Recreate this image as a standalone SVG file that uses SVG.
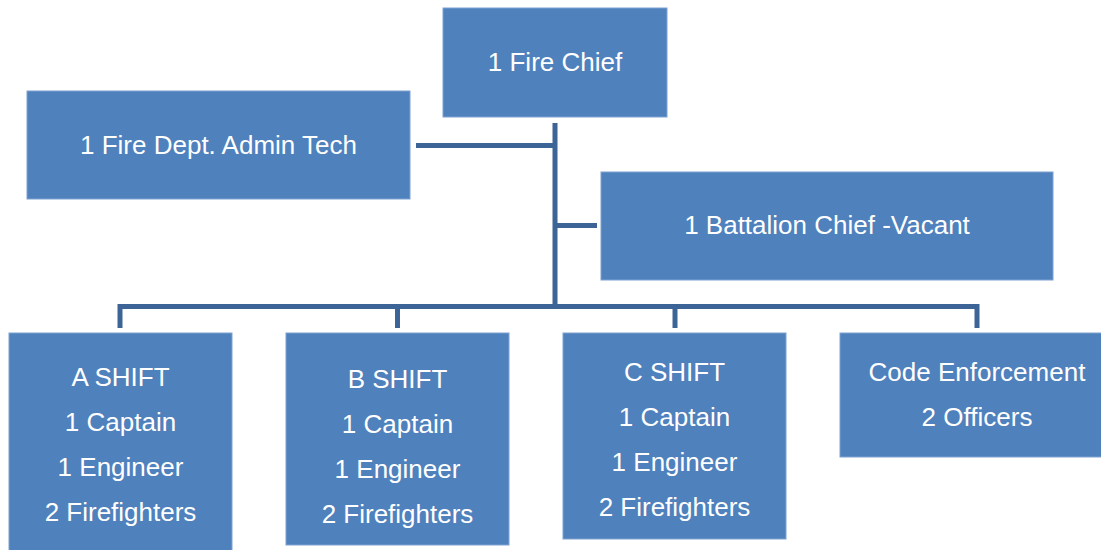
<svg xmlns="http://www.w3.org/2000/svg" width="1101" height="550" viewBox="0 0 1101 550">
<style>
.box{fill:#4F81BD;stroke:#7EA2D2;stroke-width:1}
.t{font-family:"Liberation Sans",Arial,sans-serif;font-size:26px;fill:#FFFFFF;text-anchor:middle}
.c{stroke:#3D6497;stroke-width:5;fill:none;stroke-linecap:butt;stroke-linejoin:miter}
</style>
<rect width="1101" height="550" fill="#FFFFFF"/>
<g id="connectors">
<path class="c" d="M555,123 V306.5"/>
<path class="c" d="M416,145.5 H555"/>
<path class="c" d="M555,225.5 H597"/>
<path class="c" d="M120,328 V306.5 H977 V328"/>
<path class="c" d="M397.5,306.5 V328"/>
<path class="c" d="M675,306.5 V328"/>
</g>
<g id="fire-chief">
<rect class="box" x="443" y="8" width="224" height="109"/>
<text class="t" x="555" y="71">1 Fire Chief</text>
</g>
<g id="admin-tech">
<rect class="box" x="27" y="91" width="383" height="108"/>
<text class="t" x="218.5" y="154">1 Fire Dept. Admin Tech</text>
</g>
<g id="battalion-chief">
<rect class="box" x="601" y="172" width="452" height="108"/>
<text class="t" x="827" y="234">1 Battalion Chief -Vacant</text>
</g>
<g id="a-shift">
<rect class="box" x="9" y="333" width="223" height="220"/>
<text class="t" x="120.5" y="386">A SHIFT</text>
<text class="t" x="120.5" y="431">1 Captain</text>
<text class="t" x="120.5" y="476">1 Engineer</text>
<text class="t" x="120.5" y="521">2 Firefighters</text>
</g>
<g id="b-shift">
<rect class="box" x="286" y="333" width="223" height="212"/>
<text class="t" x="397.5" y="388">B SHIFT</text>
<text class="t" x="397.5" y="433">1 Captain</text>
<text class="t" x="397.5" y="478">1 Engineer</text>
<text class="t" x="397.5" y="523">2 Firefighters</text>
</g>
<g id="c-shift">
<rect class="box" x="563" y="333" width="223" height="206"/>
<text class="t" x="674.5" y="381">C SHIFT</text>
<text class="t" x="674.5" y="426">1 Captain</text>
<text class="t" x="674.5" y="471">1 Engineer</text>
<text class="t" x="674.5" y="516">2 Firefighters</text>
</g>
<g id="code-enforcement">
<rect class="box" x="840" y="333" width="274" height="124"/>
<text class="t" x="977" y="381">Code Enforcement</text>
<text class="t" x="977" y="426">2 Officers</text>
</g>
</svg>
